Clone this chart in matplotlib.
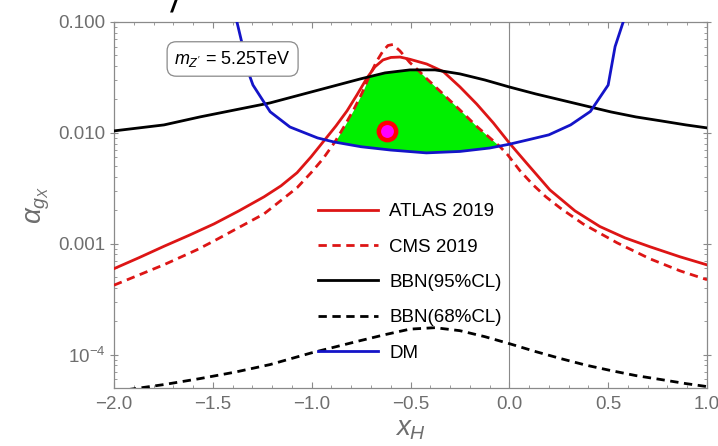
import matplotlib
import numpy as np

matplotlib.use("Agg")
import matplotlib.pyplot as plt  # noqa: E402
from matplotlib.ticker import FixedLocator, FixedFormatter, MultipleLocator, FuncFormatter  # noqa: E402

plt.rcParams["font.family"] = ["Liberation Sans", "DejaVu Sans"]
plt.rcParams["mathtext.fontset"] = "custom"
plt.rcParams["mathtext.rm"] = "Liberation Sans"
plt.rcParams["mathtext.it"] = "Liberation Sans:italic"
plt.rcParams["mathtext.fallback"] = "stixsans"

# ATLAS 2019 dilepton limit
atlas_x = [-2.0, -1.874, -1.747, -1.621, -1.494, -1.368, -1.241, -1.155, -1.074, -1.003,
           -0.938, -0.877, -0.821, -0.771, -0.72, -0.68, -0.639, -0.599, -0.553, -0.503,
           -0.418, -0.334, -0.25, -0.165, -0.081, 0.0, 0.086, 0.205, 0.332, 0.458,
           0.585, 0.711, 0.863, 1.0]
atlas_y = [5.96e-4, 7.48e-4, 9.49e-4, 1.19e-3, 1.51e-3, 1.98e-3, 2.65e-3, 3.33e-3, 4.37e-3,
           6.08e-3, 8.47e-3, 1.156e-2, 1.58e-2, 2.2e-2, 3.13e-2, 3.94e-2, 4.55e-2, 4.79e-2,
           4.83e-2, 4.61e-2, 4.18e-2, 3.57e-2, 2.6e-2, 1.82e-2, 1.23e-2, 8.1e-3, 5.37e-3,
           3.06e-3, 1.98e-3, 1.43e-3, 1.13e-3, 9.4e-4, 7.63e-4, 6.45e-4]

# CMS 2019 dilepton limit
cms_x = [-2.0, -1.747, -1.58, -1.494, -1.241, -1.074, -1.003, -0.943, -0.882, -0.831,
         -0.786, -0.745, -0.71, -0.67, -0.639, -0.614, -0.589, -0.553, -0.503, -0.463,
         -0.417, -0.336, -0.25, -0.164, -0.047, -0.007, 0.054, 0.12, 0.185, 0.256,
         0.373, 0.545, 0.711, 0.863, 1.0]
cms_y = [4.23e-4, 6.47e-4, 8.83e-4, 1.06e-3, 1.86e-3, 3.2e-3, 4.37e-3, 5.83e-3, 8.3e-3,
         1.18e-2, 1.64e-2, 2.29e-2, 3.2e-2, 4.46e-2, 5.48e-2, 6.14e-2, 6.27e-2, 5.48e-2,
         4.3e-2, 3.7e-2, 3.07e-2, 2.25e-2, 1.61e-2, 1.14e-2, 7.5e-3, 6.3e-3, 4.55e-3,
         3.4e-3, 2.65e-3, 2.11e-3, 1.51e-3, 1.02e-3, 7.32e-4, 5.7e-4, 4.74e-4]

# BBN bound, 95% CL
bbn95_x = [-2.0, -1.747, -1.565, -1.388, -1.211, -1.059, -0.907, -0.755, -0.629, -0.503,
           -0.376, -0.25, -0.124, 0.0, 0.134, 0.261, 0.387, 0.514, 0.640, 0.767, 0.893, 1.0]
bbn95_y = [0.01042, 0.0118, 0.01393, 0.01611, 0.01862, 0.02198, 0.02594, 0.03062, 0.03475,
           0.03698, 0.03698, 0.03404, 0.03000, 0.02594, 0.02244, 0.01981, 0.0175, 0.01545,
           0.01393, 0.01283, 0.0118, 0.01109]

# BBN bound, 68% CL
bbn68_x = [-2.0, -1.747, -1.565, -1.388, -1.211, -1.003, -0.755, -0.629, -0.503, -0.376,
           -0.25, -0.124, 0.0, 0.134, 0.261, 0.387, 0.514, 0.640, 0.767, 0.893, 1.0]
bbn68_y = [4.64e-5, 5.37e-5, 6.08e-5, 6.95e-5, 8.13e-5, 1.035e-4, 1.336e-4, 1.514e-4,
           1.698e-4, 1.75e-4, 1.644e-4, 1.452e-4, 1.256e-4, 1.064e-4, 9.2e-5, 8.04e-5,
           7.18e-5, 6.47e-5, 5.96e-5, 5.48e-5, 5.15e-5]

# relic-density (DM) curve
dm_x = [-1.378, -1.312, -1.297, -1.21, -1.11, -0.97, -0.89, -0.75, -0.6, -0.42,
        -0.25, -0.1, 0.0, 0.1, 0.2, 0.31, 0.41, 0.5, 0.535, 0.576]
dm_y = [0.1, 0.032, 0.027, 0.0155, 0.0113, 0.0090, 0.0083, 0.0075, 0.0070, 0.0066,
        0.0068, 0.0073, 0.0079, 0.0087, 0.0096, 0.0118, 0.0156, 0.027, 0.060, 0.1]

bench_x = [-0.617]
bench_y = [0.0104]

ytick_vals = [1e-4, 1e-3, 1e-2, 1e-1]
ytick_labels = [r"$10^{-4}$", "0.001", "0.010", "0.100"]

RED = "#dd1515"
BLUE = "#1414c8"
GRAY = "#6e6e6e"
FRAME = "#8a8a8a"


def logi(xq, x, y):
    return 10 ** np.interp(xq, x, np.log10(y))


fig = plt.figure(figsize=(7.18, 4.46), dpi=100)
ax = fig.add_axes([114 / 718, 1 - 388 / 446, 593 / 718, 366 / 446])

# allowed region: above DM, below both CMS and BBN(95%)
xg = np.linspace(-1.0, 0.1, 800)
lo = logi(xg, dm_x, dm_y)
hi = np.minimum(logi(xg, cms_x, cms_y), logi(xg, bbn95_x, bbn95_y))
ax.fill_between(xg, lo, hi, where=hi > lo, color="#00f000", lw=0, zorder=1)

ax.axvline(0, color=FRAME, lw=0.8, zorder=1.5)

dash = (0, (3.0, 2.0))
ax.plot(atlas_x, atlas_y, color=RED, lw=2.0, label="ATLAS 2019", zorder=3)
ax.plot(cms_x, cms_y, color=RED, lw=2.0, ls=dash, label="CMS 2019", zorder=3)
ax.plot(bbn95_x, bbn95_y, color="black", lw=2.0, label="BBN(95%CL)", zorder=3)
ax.plot(bbn68_x, bbn68_y, color="black", lw=2.0, ls=dash, label="BBN(68%CL)", zorder=3)
ax.plot(dm_x, dm_y, color=BLUE, lw=2.0, label="DM", zorder=3)
ax.plot(bench_x, bench_y, "o", ms=12.5, mfc="#ff00ff", mec="#ff0000", mew=3.2, zorder=5)

ax.set_yscale("log")
ax.set_xlim(-2.0, 1.0)
ax.set_ylim(5.0e-5, 0.1)

ax.xaxis.set_major_locator(MultipleLocator(0.5))
ax.xaxis.set_minor_locator(MultipleLocator(0.1))
ax.xaxis.set_major_formatter(FuncFormatter(lambda v, _: f"{v:.1f}".replace("-", "\u2212")))
ax.yaxis.set_major_locator(FixedLocator(ytick_vals))
ax.yaxis.set_major_formatter(FixedFormatter(ytick_labels))

ax.tick_params(which="both", top=True, right=True, direction="in",
               colors=FRAME, labelcolor=GRAY, labelsize=13.5)
ax.tick_params(axis="x", which="major", length=4.5, width=0.8, pad=6)
ax.tick_params(axis="x", which="minor", length=2.5, width=0.6)
ax.tick_params(axis="y", which="major", length=6, width=0.8, direction="inout", pad=3)
ax.tick_params(axis="y", which="minor", length=2.5, width=0.6)
for s in ax.spines.values():
    s.set_color(FRAME)
    s.set_linewidth(0.9)

ax.set_xlabel(r"$x_H$", fontsize=20, color=GRAY, labelpad=2)
ax.set_ylabel(r"$\alpha_{g_X}$", fontsize=20, color=GRAY, labelpad=5)

ax.text(-1.40, 0.0464, r"$m_{Z'}$ = 5.25TeV", fontsize=13, ha="center", va="center",
        bbox=dict(boxstyle="round,pad=0.4,rounding_size=0.5", fc="white", ec=FRAME, lw=0.9),
        zorder=6)

ax.legend(loc="upper left", bbox_to_anchor=(0.344, 0.505), frameon=False, fontsize=13.5,
          handlelength=3.2, handletextpad=0.59, labelspacing=0.97,
          borderpad=0, borderaxespad=0)

fig.text(0.243, 1 - 12 / 446, "/", fontsize=18, style="italic", fontweight="bold",
         ha="center", va="baseline")

fig.savefig("out.png", dpi=100)
